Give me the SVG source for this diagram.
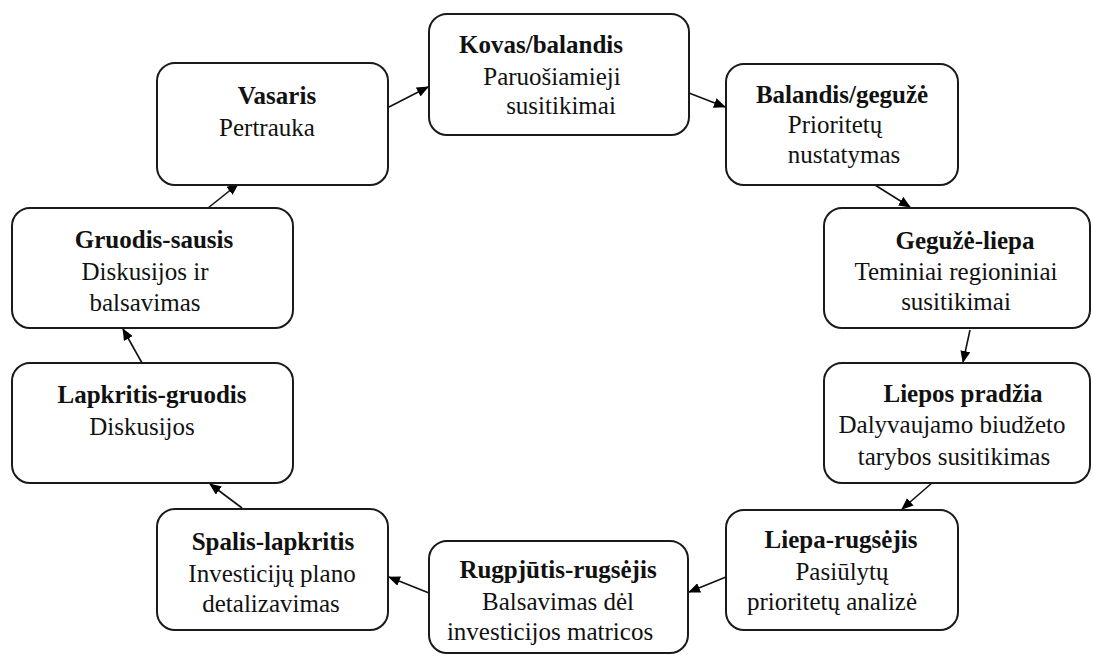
<svg xmlns="http://www.w3.org/2000/svg" width="1093" height="656" viewBox="0 0 1093 656">
<style>
.box{fill:#fff;stroke:#1a1a1a;stroke-width:2}
.lbl{font-size:25px;fill:#111;text-anchor:middle}
.t{font-weight:bold}
.c{stroke:#111;stroke-width:1.6;fill:none;marker-end:url(#ah)}
</style>
<defs>
<marker id="ah" viewBox="0 0 12 10" refX="11" refY="5" markerWidth="12" markerHeight="10" markerUnits="userSpaceOnUse" orient="auto">
<path d="M0,0 L12,5 L0,10 z" fill="#000"/>
</marker>
</defs>
<rect width="1093" height="656" fill="#fff"/>
<g id="connectors">
<line class="c" x1="208" y1="208" x2="238" y2="184"/>
<line class="c" x1="389" y1="107" x2="428" y2="87"/>
<line class="c" x1="689" y1="93" x2="725" y2="107"/>
<line class="c" x1="875" y1="185" x2="910" y2="207"/>
<line class="c" x1="970" y1="330" x2="963" y2="362"/>
<line class="c" x1="932" y1="483" x2="902" y2="509"/>
<line class="c" x1="726" y1="577" x2="689" y2="592"/>
<line class="c" x1="429" y1="593" x2="389" y2="577"/>
<line class="c" x1="242" y1="508" x2="210" y2="484"/>
<line class="c" x1="142" y1="363" x2="123" y2="329"/>
</g>
<g font-family="Liberation Serif" class="lbl">
<g id="vasaris">
<rect class="box" x="157" y="63" width="231" height="122" rx="18"/>
<text class="t" x="277" y="104">Vasaris</text>
<text x="267" y="136">Pertrauka</text>
</g>
<g id="kovas">
<rect class="box" x="429" y="14" width="260" height="121" rx="18"/>
<text class="t" x="541" y="53">Kovas/balandis</text>
<text x="552" y="85">Paruošiamieji</text>
<text x="561" y="114">susitikimai</text>
</g>
<g id="balandis">
<rect class="box" x="726" y="64" width="232" height="121" rx="18"/>
<text class="t" x="842" y="103">Balandis/gegužė</text>
<text x="835" y="133">Prioritetų</text>
<text x="844" y="163">nustatymas</text>
</g>
<g id="geguze">
<rect class="box" x="824" y="208" width="266" height="120" rx="18"/>
<text class="t" x="965" y="249">Gegužė-liepa</text>
<text x="956" y="280">Teminiai regioniniai</text>
<text x="956" y="310">susitikimai</text>
</g>
<g id="liepos">
<rect class="box" x="824" y="363" width="266" height="120" rx="18"/>
<text class="t" x="963" y="402">Liepos pradžia</text>
<text x="952" y="433">Dalyvaujamo biudžeto</text>
<text x="954" y="465">tarybos susitikimas</text>
</g>
<g id="liepa-rugsejis">
<rect class="box" x="726" y="510" width="232" height="120" rx="18"/>
<text class="t" x="841" y="548">Liepa-rugsėjis</text>
<text x="842" y="580">Pasiūlytų</text>
<text x="832" y="610">prioritetų analizė</text>
</g>
<g id="rugpjutis">
<rect class="box" x="429" y="541" width="259" height="112" rx="18"/>
<text class="t" x="558" y="578">Rugpjūtis-rugsėjis</text>
<text x="558" y="610">Balsavimas dėl</text>
<text x="550" y="640">investicijos matricos</text>
</g>
<g id="spalis">
<rect class="box" x="157" y="509" width="231" height="121" rx="18"/>
<text class="t" x="273" y="550">Spalis-lapkritis</text>
<text x="272" y="582">Investicijų plano</text>
<text x="271" y="612">detalizavimas</text>
</g>
<g id="lapkritis">
<rect class="box" x="12" y="363" width="281" height="120" rx="18"/>
<text class="t" x="152" y="403">Lapkritis-gruodis</text>
<text x="142" y="435">Diskusijos</text>
</g>
<g id="gruodis">
<rect class="box" x="12" y="208" width="281" height="120" rx="18"/>
<text class="t" x="154" y="248">Gruodis-sausis</text>
<text x="145" y="280">Diskusijos ir</text>
<text x="145" y="311">balsavimas</text>
</g>
</g>
</svg>
